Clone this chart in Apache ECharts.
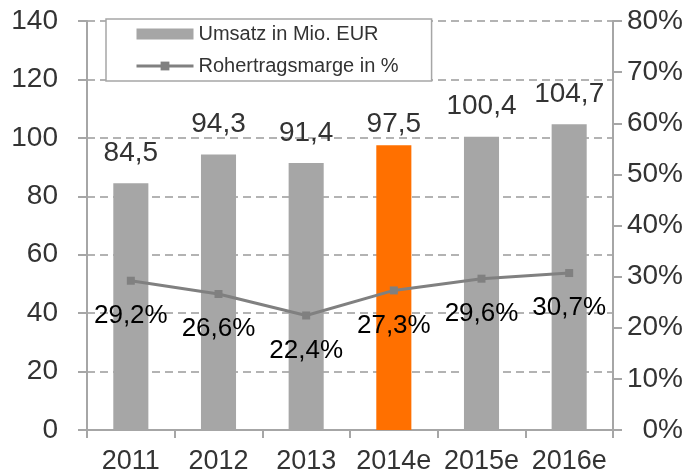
<!DOCTYPE html>
<html>
<head>
<meta charset="utf-8">
<script src="https://cdn.jsdelivr.net/npm/echarts@6/dist/echarts.min.js"></script>
<style>
html,body{margin:0;padding:0;background:#fff;}
#chart{width:700px;height:475px;}
</style>
</head>
<body>
<div id="chart"></div>
<script>
var categories = ['2011', '2012', '2013', '2014e', '2015e', '2016e'];
var umsatz = [84.5, 94.3, 91.4, 97.5, 100.4, 104.7];
var marge = [29.2, 26.6, 22.4, 27.3, 29.6, 30.7];
var leftTicks = [0, 20, 40, 60, 80, 100, 120, 140];
var rightTicks = [0, 10, 20, 30, 40, 50, 60, 70, 80];
var highlightIndex = 3;

var FONT = "'Liberation Sans', Arial, sans-serif";
var GRAY = '#A6A6A6';
var ORANGE = '#FF7000';
var AXIS = '#A6A6A6';
var TEXT = '#333333';

function de(v) { return v.toFixed(1).replace('.', ','); }

var chart = echarts.init(document.getElementById('chart'), null, {renderer: 'canvas'});
chart.setOption({
  animation: false,
  backgroundColor: '#fff',
  textStyle: {fontFamily: FONT},
  grid: {left: 87, right: 87, top: 21, bottom: 43, containLabel: false},
  legend: {
    orient: 'vertical',
    left: 106,
    top: 19,
    padding: [4, 33, 4, 29],
    itemGap: 10,
    itemWidth: 57,
    itemHeight: 11,
    backgroundColor: '#fff',
    borderColor: '#A6A6A6',
    borderWidth: 1.5,
    borderRadius: 0,
    textStyle: {fontFamily: FONT, fontSize: 20, color: TEXT, lineHeight: 22},
    data: [
      {name: 'Umsatz in Mio. EUR', icon: 'rect', itemStyle: {color: GRAY}},
      {name: 'Rohertragsmarge in %', lineStyle: {width: 3, color: '#808080'}}
    ]
  },
  xAxis: {
    type: 'category',
    data: categories,
    axisLine: {lineStyle: {color: AXIS, width: 2}},
    axisTick: {show: true, length: 8, lineStyle: {color: AXIS, width: 2}},
    axisLabel: {fontFamily: FONT, fontSize: 27, color: TEXT, margin: 18, interval: 0}
  },
  yAxis: [
    {
      type: 'value',
      min: leftTicks[0],
      max: leftTicks[leftTicks.length - 1],
      interval: leftTicks[1] - leftTicks[0],
      axisLine: {show: true, lineStyle: {color: AXIS, width: 2}},
      axisTick: {show: true, length: 9, lineStyle: {color: AXIS, width: 2}},
      axisLabel: {fontFamily: FONT, fontSize: 28, color: TEXT, margin: 29},
      splitLine: {show: true, lineStyle: {color: '#B3B3B3', width: 2, type: [8, 5]}}
    },
    {
      type: 'value',
      position: 'right',
      min: rightTicks[0],
      max: rightTicks[rightTicks.length - 1],
      interval: rightTicks[1] - rightTicks[0],
      axisLine: {show: true, lineStyle: {color: AXIS, width: 2}},
      axisTick: {show: true, length: 9, lineStyle: {color: AXIS, width: 2}},
      axisLabel: {fontFamily: FONT, fontSize: 28, color: TEXT, margin: 70, align: 'right', formatter: '{value}%'},
      splitLine: {show: false}
    }
  ],
  series: [
    {
      name: 'Umsatz in Mio. EUR',
      type: 'bar',
      yAxisIndex: 0,
      barWidth: '40%',
      itemStyle: {color: GRAY},
      label: {
        show: true, position: 'top', distance: 16,
        fontFamily: FONT, fontSize: 28, color: TEXT,
        formatter: function (p) { return de(p.value); }
      },
      data: umsatz.map(function (v, i) {
        var d = {value: v};
        if (i === highlightIndex) {
          d.itemStyle = {color: ORANGE};
          d.label = {distance: 7};
        }
        return d;
      }),
      z: 2
    },
    {
      name: 'Rohertragsmarge in %',
      type: 'line',
      yAxisIndex: 1,
      data: marge,
      symbol: 'rect',
      symbolSize: 8,
      showAllSymbol: true,
      lineStyle: {color: '#808080', width: 3},
      itemStyle: {color: '#808080'},
      label: {
        show: true, position: 'bottom', distance: 18,
        fontFamily: FONT, fontSize: 26, color: '#000',
        formatter: function (p) { return de(p.value) + '%'; }
      },
      z: 3
    }
  ]
});
</script>
</body>
</html>
